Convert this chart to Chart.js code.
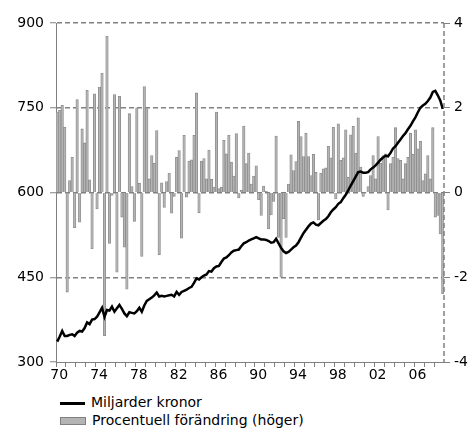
<!DOCTYPE html>
<html><head><meta charset="utf-8">
<script src="https://cdn.jsdelivr.net/npm/chart.js@4"></script>
<style>
html,body{margin:0;padding:0;background:#fff;}
#wrap{position:relative;width:472px;height:428px;overflow:hidden;}
canvas{position:absolute;left:0;top:0;}
.leg{position:absolute;left:60px;font:14px "DejaVu Sans",sans-serif;color:#000;white-space:nowrap;line-height:16px;}
.sw{display:inline-block;vertical-align:middle;margin-right:6px;}
</style></head><body>
<div id="wrap">
<canvas id="c" width="472" height="390"></canvas>
<div class="leg" style="top:394px"><span class="sw" style="width:25px;height:3px;background:#000;"></span>Miljarder kronor</div>
<div class="leg" style="top:412px"><span class="sw" style="width:24px;height:6px;background:#b4b4b4;border:1px solid #808080;"></span>Procentuell förändring (höger)</div>
</div>
<script>
const firstYear = 1970;
const lastYear = 2008;
const tickLabels = ['70','74','78','82','86','90','94','98','02','06'];

// Miljarder kronor (left axis), quarterly 1970Q1 - 2008Q4
const level = [
 336,345,355,346, 346,348,349,346, 352,355,354,360, 370,367,375,376,
 380,388,396,380, 392,391,398,389, 395,401,394,386, 381,388,387,386,
 390,396,389,400, 408,411,414,418, 423,416,417,416, 417,418,419,416,
 424,419,424,426, 428,431,433,440, 448,446,450,453, 455,461,460,466,
 469,470,477,483, 485,489,494,497, 498,499,505,510, 512,515,517,519,
 521,519,517,517, 516,514,511,512, 518,510,502,496, 493,495,499,503,
 506,512,520,528, 534,540,545,547, 543,542,546,550, 553,558,565,570,
 574,580,583,590, 596,604,612,620, 628,636,637,635, 635,636,641,644,
 648,653,658,662, 665,664,670,678, 682,688,694,700, 705,712,718,726,
 733,742,750,754, 757,762,768,778, 780,772,763,748
];

// Procentuell förändring (right axis), quarterly
const change = [
 1.90,1.94,2.06,1.54, -2.35,0.28,0.83,-0.83, 2.19,-0.70,1.50,1.17, 2.41,0.30,-1.33,2.33,
 -0.39,2.49,2.82,-3.38, 3.69,-1.20,-0.07,2.31, -1.88,2.27,-0.58,-1.29, -2.28,1.86,0.14,-0.68,
 2.00,0.22,-1.51,2.50, 1.98,0.32,0.87,0.69, 1.46,-1.47,0.23,-0.35, 0.26,0.46,-0.49,-0.09,
 0.83,0.99,-1.08,1.35, -0.11,0.74,0.77,1.35, 2.35,-0.48,0.74,0.80, 0.32,1.00,0.31,0.13,
 1.90,0.09,0.13,1.23, 0.91,1.35,0.72,0.39, 1.39,-0.13,0.05,1.57, 0.68,0.93,0.20,0.39,
 0.63,-0.17,-0.54,0.15, 0.03,-0.86,-0.53,-0.21, 1.33,-1.06,-2.00,-0.62, -1.06,0.20,0.89,0.52,
 0.73,1.68,1.32,0.85, 1.40,0.85,0.40,0.90, 0.48,-0.65,0.46,0.56, 0.58,1.09,0.82,1.54,
 -0.15,1.62,0.76,0.82, 1.48,0.36,1.36,1.56, 0.93,1.76,0.60,-0.09, 0.01,0.14,0.40,0.87,
 0.32,1.32,0.69,0.87, 0.91,-0.41,0.68,0.83, 1.53,0.80,0.76,0.32, 0.68,0.83,1.40,0.90,
 1.48,1.03,1.21,0.28, 0.44,0.87,0.32,1.53, -0.58,-0.54,-0.98,-2.39
];

const categories = [];
for (let y = firstYear; y <= lastYear; y++) for (let q = 1; q <= 4; q++) categories.push(y + 'Q' + q);

const GRID = '#808080';
const FONT = {family: '"DejaVu Sans", sans-serif', size: 14};

const rightBorder = {
  id: 'rightBorder',
  afterDraw(chart) {
    const a = chart.chartArea, ctx = chart.ctx;
    ctx.save();
    ctx.strokeStyle = GRID; ctx.lineWidth = 1.5; ctx.setLineDash([5,3]);
    ctx.beginPath(); ctx.moveTo(a.right, a.top); ctx.lineTo(a.right, a.bottom); ctx.stroke();
    ctx.restore();
  }
};

new Chart(document.getElementById('c'), {
  data: {
    labels: categories,
    datasets: [
      {type: 'line', label: 'Miljarder kronor', data: level, yAxisID: 'y', borderColor: '#000', borderWidth: 2.5,
       pointRadius: 0, tension: 0, order: 0},
      {type: 'bar', label: 'Procentuell förändring (höger)', data: change, yAxisID: 'y1',
       backgroundColor: '#b4b4b4', borderColor: '#8a8a8a', borderWidth: 0.8, barPercentage: 1, categoryPercentage: 1, order: 1}
    ]
  },
  options: {
    responsive: false, animation: false,
    layout: {padding: {top: 23, left: 0, right: 0, bottom: 0}},
    plugins: {legend: {display: false}, tooltip: {enabled: false}},
    scales: {
      x: {
        type: 'category', offset: true,
        afterFit: s => { s.height = 28; },
        grid: {offset: true, drawOnChartArea: false, drawTicks: true, tickLength: 5,
               tickColor: c => (c.index % 4 === 0) ? GRID : 'rgba(0,0,0,0)', tickWidth: 1},
        border: {display: true, color: GRID, width: 1},
        ticks: {autoSkip: false, maxRotation: 0, minRotation: 0, padding: 0, labelOffset: 2, color: '#000', font: FONT,
                callback: (v, i) => (i % 16 === 0) ? tickLabels[i / 16] : ''}
      },
      y: {
        position: 'left', min: 300, max: 900,
        afterFit: s => { s.width = 56; },
        ticks: {stepSize: 150, color: '#000', font: FONT, padding: 6},
        grid: {color: c => (c.tick && c.tick.value === 300) ? 'rgba(0,0,0,0)' : GRID, lineWidth: 1.5,
               drawTicks: true, tickLength: 6, tickColor: GRID, tickWidth: 1, tickBorderDash: []},
        border: {display: true, color: GRID, width: 1, dash: [5,3]}
      },
      y1: {
        position: 'right', min: -4, max: 4,
        afterFit: s => { s.width = 28; },
        ticks: {stepSize: 2, color: '#000', font: FONT, padding: 4},
        grid: {drawOnChartArea: false, drawTicks: true, tickLength: 6, tickColor: GRID, tickWidth: 1},
        border: {display: false}
      }
    }
  },
  plugins: [rightBorder]
});
</script>
</body></html>
